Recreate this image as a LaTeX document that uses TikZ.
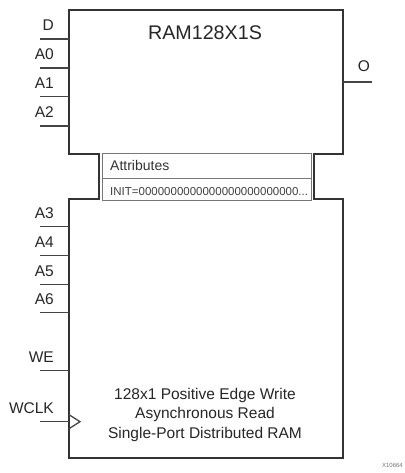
\documentclass[tikz,border=0pt]{standalone}
\usepackage{fontspec}
\setmainfont{Liberation Sans}
\usepackage{xcolor}
\usetikzlibrary{arrows.meta, positioning, calc}

\definecolor{bodygray}{HTML}{333333}
\definecolor{pingray}{HTML}{444444}
\definecolor{attrgray}{HTML}{777777}

\begin{document}
\begin{tikzpicture}[x=1pt, y=-1pt,
    body/.style={line width=2pt, bodygray, line join=miter},
    pinline/.style={line width=1.3pt, pingray},
    pinlabel/.style={font=\fontsize{15.5}{18}\selectfont, text=black!85, inner sep=0pt, anchor=base east},
    desc/.style={font=\fontsize{15.5}{18}\selectfont, text=black!85, inner sep=0pt, anchor=base}]
  \useasboundingbox (0,0) rectangle (404,473);

  % ---- Primitive body, notched for the attribute table ----
  \draw[body] (69,10) -- (343,10) -- (343,154) -- (314,154) -- (314,199)
    -- (343,199) -- (343,458) -- (69,458) -- (69,199) -- (99,199)
    -- (99,154) -- (69,154) -- cycle;
  \node[font=\fontsize{19.7}{22}\selectfont, text=black!85, inner sep=0pt, anchor=base]
    (title) at (205,39.3) {RAM128X1S};

  % ---- Attribute table ----
  \draw[attrgray, line width=1pt] (102,154) rectangle (311,200);
  \draw[attrgray, line width=1pt] (102,178) -- (311,178);
  \node[font=\fontsize{14}{16}\selectfont, text=black!80, inner sep=0pt, anchor=base west]
    (attr-head) at (110,170.5) {Attributes};
  \node[font=\fontsize{11.5}{13}\selectfont, text=black!75, inner sep=0pt, anchor=base west]
    (attr-init) at (110,195.7) {INIT=0000000000000000000000000...};

  % ---- Input pins: name / y of the pin line ----
  \foreach \n/\y in {D/39, A0/68, A1/96.5, A2/126, A3/226.5, A4/255.5,
                     A5/284.3, A6/312.7, WE/370.7, WCLK/421.7} {
    \coordinate (\n-end) at (40,\y);
    \coordinate (\n) at (69,\y);
    \draw[pinline] (\n-end) -- (\n);
    \node[pinlabel] (\n-lbl) at (54,\y-8) {\n};
  }
  % clock marker on WCLK
  \draw[pinline, line join=miter] ($(WCLK)+(0,-7)$) -- ($(WCLK)+(11,0)$) -- ($(WCLK)+(0,7)$);

  % ---- Output pin ----
  \coordinate (O) at (343,82);
  \coordinate (O-end) at (372,82);
  \draw[pinline] (O) -- (O-end);
  \node[desc] (O-lbl) at (364,72) {O};

  % ---- Description ----
  \node[desc] (desc1) at (205,399.5) {128x1 Positive Edge Write};
  \node[desc] (desc2) at (205,418.5) {Asynchronous Read};
  \node[desc] (desc3) at (205,438) {Single-Port Distributed RAM};

  \node[font=\fontsize{6}{7}\selectfont, text=black!55, inner sep=0pt, anchor=base east]
    (fig-id) at (403,467) {X10664};
\end{tikzpicture}
\end{document}
